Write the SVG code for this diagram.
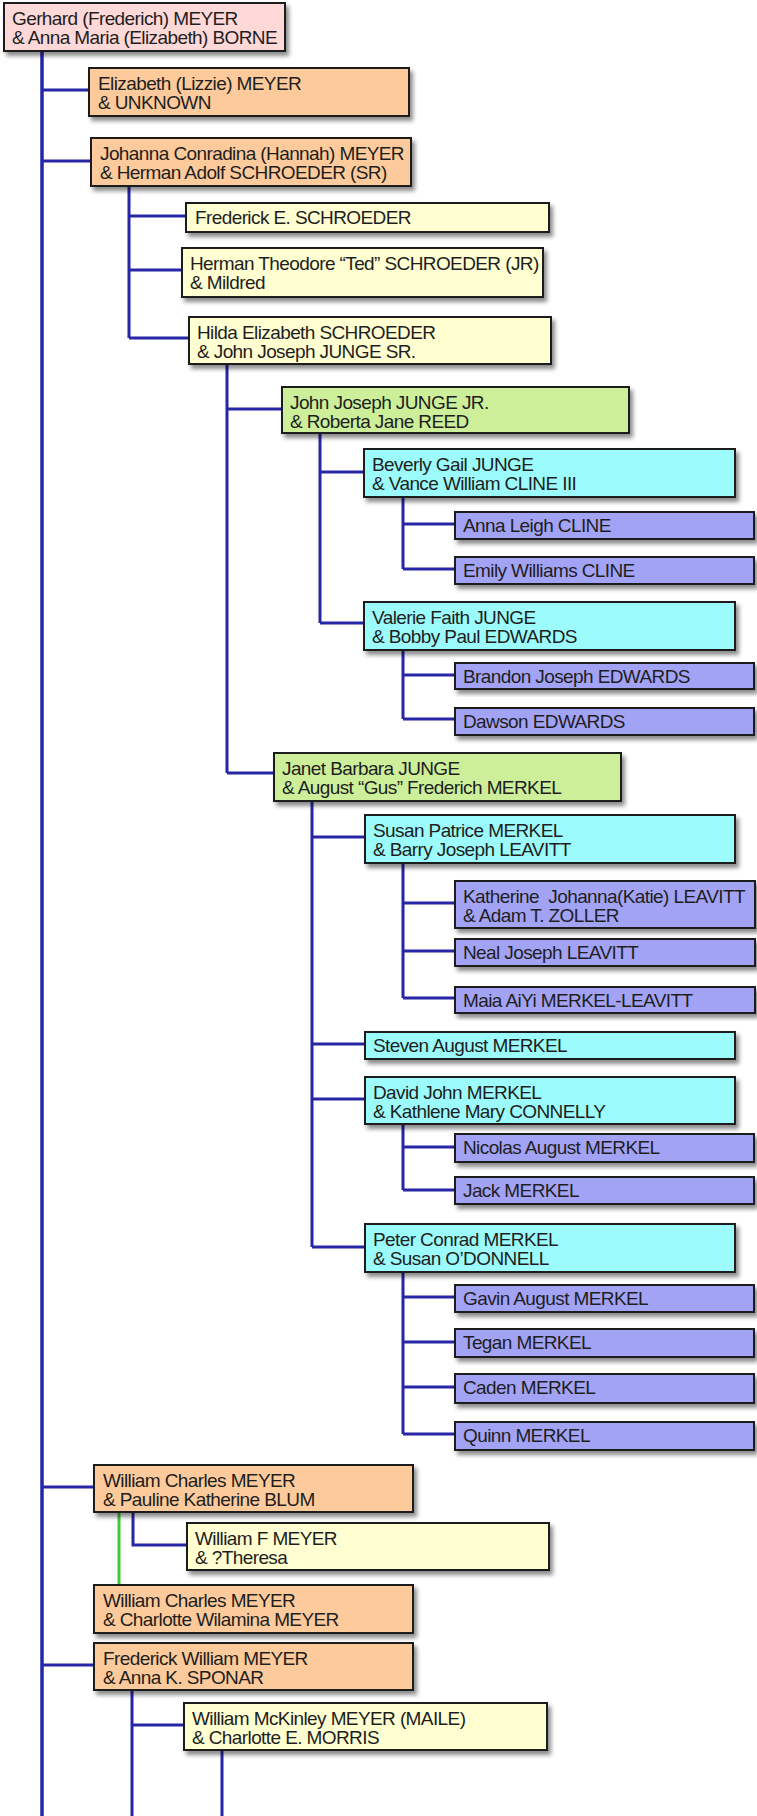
<svg xmlns="http://www.w3.org/2000/svg" width="757" height="1816" viewBox="0 0 757 1816">
<style>
  .box{stroke:#1c1c1c;stroke-width:2;filter:url(#sh)}
  .pink{fill:#FFD8D8}
  .orange{fill:#FDCB9B}
  .yellow{fill:#FFFFD2}
  .green{fill:#CDEF9A}
  .cyan{fill:#9CFBFB}
  .purple{fill:#A3A3F6}
  text{font-family:"Liberation Sans",Arial,Helvetica,sans-serif;font-size:19px;letter-spacing:-0.6px;fill:#1e1e1e}
  .ln{fill:none;stroke:#2626A6;stroke-width:3}
  .trunk{fill:none;stroke:#2626A6;stroke-width:3.5}
  .gl{fill:none;stroke:#3FC83A;stroke-width:3}
</style>
<defs>
  <filter id="sh" x="-5%" y="-20%" width="115%" height="150%">
    <feDropShadow dx="3" dy="4" stdDeviation="2" flood-color="#000" flood-opacity="0.45"/>
  </filter>
</defs>
<rect width="757" height="1816" fill="#fff"/>
<g id="connectors">
  <path class="trunk" d="M42,51 V1816"/>
  <path class="ln" d="M42,90 H89 M42,161 H91 M42,1487 H94 M42,1665 H94"/>
  <path class="ln" d="M129,186 V338 M129,216 H186 M129,270 H182 M129,338 H189"/>
  <path class="ln" d="M227,364 V773 M227,409 H282 M227,773 H274"/>
  <path class="ln" d="M320,433 V623 M320,472 H364 M320,623 H364"/>
  <path class="ln" d="M403,497 V569 M403,524 H455 M403,569 H455"/>
  <path class="ln" d="M403,650 V719 M403,675 H455 M403,719 H455"/>
  <path class="ln" d="M312,801 V1247 M312,837 H365 M312,1044 H365 M312,1099 H365 M312,1247 H365"/>
  <path class="ln" d="M403,863 V998 M403,903 H455 M403,951 H455 M403,998 H455"/>
  <path class="ln" d="M403,1124 V1190 M403,1147 H455 M403,1190 H455"/>
  <path class="ln" d="M403,1272 V1434 M403,1297 H455 M403,1342 H455 M403,1387 H455 M403,1434 H455"/>
  <path class="ln" d="M133,1512 V1545 H187"/>
  <path class="gl" d="M119,1512 V1585"/>
  <path class="ln" d="M132,1690 V1816 M132,1725 H184"/>
  <path class="ln" d="M222,1750 V1816"/>
</g>
<g id="n-gerhard"><rect class="box pink" x="4" y="3" width="281" height="48"/><text><tspan x="12" y="25">Gerhard (Frederich) MEYER</tspan><tspan x="12" y="44">&amp; Anna Maria (Elizabeth) BORNE</tspan></text></g>
<g id="n-elizabeth"><rect class="box orange" x="89" y="68" width="320" height="48"/><text><tspan x="98" y="90">Elizabeth (Lizzie) MEYER</tspan><tspan x="98" y="109">&amp; UNKNOWN</tspan></text></g>
<g id="n-johanna"><rect class="box orange" x="91" y="138" width="320" height="48"/><text><tspan x="100" y="160">Johanna Conradina (Hannah) MEYER</tspan><tspan x="100" y="179">&amp; Herman Adolf SCHROEDER (SR)</tspan></text></g>
<g id="n-frederick-e"><rect class="box yellow" x="186" y="203" width="363" height="29"/><text><tspan x="195" y="224">Frederick E. SCHROEDER</tspan></text></g>
<g id="n-herman"><rect class="box yellow" x="182" y="248" width="361" height="49"/><text><tspan x="190" y="270">Herman Theodore “Ted” SCHROEDER (JR)</tspan><tspan x="190" y="289">&amp; Mildred</tspan></text></g>
<g id="n-hilda"><rect class="box yellow" x="189" y="317" width="362" height="47"/><text><tspan x="197" y="339">Hilda Elizabeth SCHROEDER</tspan><tspan x="197" y="358">&amp; John Joseph JUNGE SR.</tspan></text></g>
<g id="n-jj-jr"><rect class="box green" x="282" y="387" width="347" height="46"/><text><tspan x="290" y="409">John Joseph JUNGE JR.</tspan><tspan x="290" y="428">&amp; Roberta Jane REED</tspan></text></g>
<g id="n-beverly"><rect class="box cyan" x="364" y="449" width="371" height="48"/><text><tspan x="372" y="471">Beverly Gail JUNGE</tspan><tspan x="372" y="490">&amp; Vance William CLINE III</tspan></text></g>
<g id="n-anna-leigh"><rect class="box purple" x="455" y="512" width="299" height="27"/><text><tspan x="463" y="532">Anna Leigh CLINE</tspan></text></g>
<g id="n-emily"><rect class="box purple" x="455" y="557" width="299" height="27"/><text><tspan x="463" y="577">Emily Williams CLINE</tspan></text></g>
<g id="n-valerie"><rect class="box cyan" x="364" y="602" width="371" height="48"/><text><tspan x="372" y="624">Valerie Faith JUNGE</tspan><tspan x="372" y="643">&amp; Bobby Paul EDWARDS</tspan></text></g>
<g id="n-brandon"><rect class="box purple" x="455" y="663" width="299" height="26"/><text><tspan x="463" y="683">Brandon Joseph EDWARDS</tspan></text></g>
<g id="n-dawson"><rect class="box purple" x="455" y="708" width="299" height="27"/><text><tspan x="463" y="728">Dawson EDWARDS</tspan></text></g>
<g id="n-janet"><rect class="box green" x="274" y="753" width="347" height="48"/><text><tspan x="282" y="775">Janet Barbara JUNGE</tspan><tspan x="282" y="794">&amp; August “Gus” Frederich MERKEL</tspan></text></g>
<g id="n-susan"><rect class="box cyan" x="365" y="815" width="370" height="48"/><text><tspan x="373" y="837">Susan Patrice MERKEL</tspan><tspan x="373" y="856">&amp; Barry Joseph LEAVITT</tspan></text></g>
<g id="n-katherine"><rect class="box purple" x="455" y="881" width="300" height="47"/><text><tspan x="463" y="903">Katherine&#160; Johanna(Katie) LEAVITT</tspan><tspan x="463" y="922">&amp; Adam T. ZOLLER</tspan></text></g>
<g id="n-neal"><rect class="box purple" x="455" y="939" width="300" height="27"/><text><tspan x="463" y="959">Neal Joseph LEAVITT</tspan></text></g>
<g id="n-maia"><rect class="box purple" x="455" y="987" width="300" height="26"/><text><tspan x="463" y="1007">Maia AiYi MERKEL-LEAVITT</tspan></text></g>
<g id="n-steven"><rect class="box cyan" x="365" y="1032" width="370" height="27"/><text><tspan x="373" y="1052">Steven August MERKEL</tspan></text></g>
<g id="n-david"><rect class="box cyan" x="365" y="1077" width="370" height="47"/><text><tspan x="373" y="1099">David John MERKEL</tspan><tspan x="373" y="1118">&amp; Kathlene Mary CONNELLY</tspan></text></g>
<g id="n-nicolas"><rect class="box purple" x="455" y="1134" width="299" height="28"/><text><tspan x="463" y="1154">Nicolas August MERKEL</tspan></text></g>
<g id="n-jack"><rect class="box purple" x="455" y="1177" width="299" height="27"/><text><tspan x="463" y="1197">Jack MERKEL</tspan></text></g>
<g id="n-peter"><rect class="box cyan" x="365" y="1224" width="370" height="48"/><text><tspan x="373" y="1246">Peter Conrad MERKEL</tspan><tspan x="373" y="1265">&amp; Susan O’DONNELL</tspan></text></g>
<g id="n-gavin"><rect class="box purple" x="455" y="1285" width="299" height="27"/><text><tspan x="463" y="1305">Gavin August MERKEL</tspan></text></g>
<g id="n-tegan"><rect class="box purple" x="455" y="1329" width="299" height="28"/><text><tspan x="463" y="1349">Tegan MERKEL</tspan></text></g>
<g id="n-caden"><rect class="box purple" x="455" y="1374" width="299" height="29"/><text><tspan x="463" y="1394">Caden MERKEL</tspan></text></g>
<g id="n-quinn"><rect class="box purple" x="455" y="1422" width="299" height="28"/><text><tspan x="463" y="1442">Quinn MERKEL</tspan></text></g>
<g id="n-william-blum"><rect class="box orange" x="94" y="1465" width="319" height="47"/><text><tspan x="103" y="1487">William Charles MEYER</tspan><tspan x="103" y="1506">&amp; Pauline Katherine BLUM</tspan></text></g>
<g id="n-william-f"><rect class="box yellow" x="187" y="1523" width="362" height="47"/><text><tspan x="195" y="1545">William F MEYER</tspan><tspan x="195" y="1564">&amp; ?Theresa</tspan></text></g>
<g id="n-william-charlotte"><rect class="box orange" x="94" y="1585" width="319" height="48"/><text><tspan x="103" y="1607">William Charles MEYER</tspan><tspan x="103" y="1626">&amp; Charlotte Wilamina MEYER</tspan></text></g>
<g id="n-frederick-w"><rect class="box orange" x="94" y="1643" width="319" height="47"/><text><tspan x="103" y="1665">Frederick William MEYER</tspan><tspan x="103" y="1684">&amp; Anna K. SPONAR</tspan></text></g>
<g id="n-mckinley"><rect class="box yellow" x="184" y="1703" width="363" height="47"/><text><tspan x="192" y="1725">William McKinley MEYER (MAILE)</tspan><tspan x="192" y="1744">&amp; Charlotte E. MORRIS</tspan></text></g>
</svg>
